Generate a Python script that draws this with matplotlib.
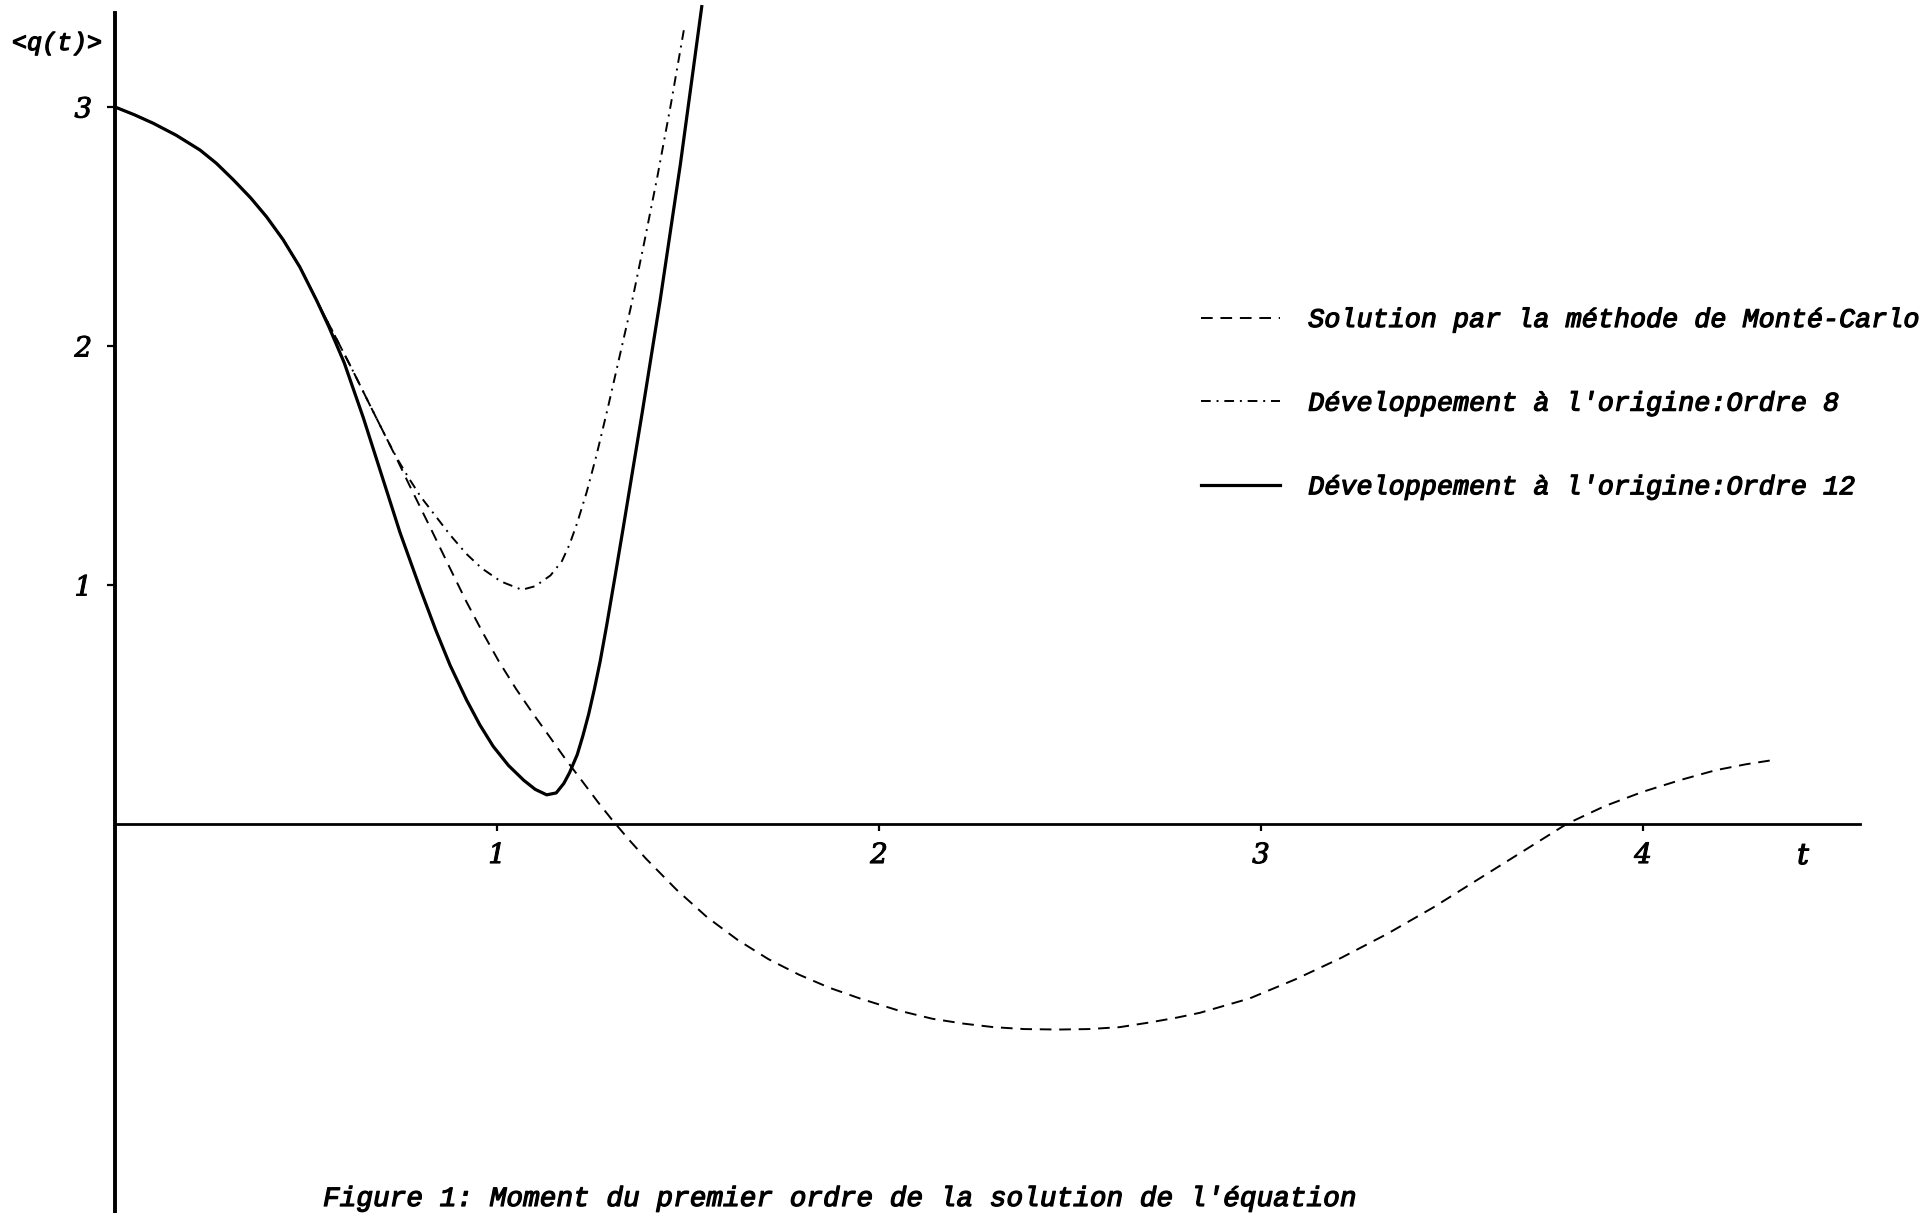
import matplotlib
matplotlib.use("Agg")
import matplotlib.pyplot as plt
import matplotlib.patheffects as pe

# ---- data ----
# part shared by all three curves
t_common = [0.0, 0.05, 0.10, 0.16, 0.2225, 0.265, 0.31, 0.355, 0.397, 0.44, 0.484, 0.528]
q_common = [3.0, 2.968, 2.932, 2.882, 2.82, 2.765, 2.695, 2.62, 2.54, 2.445, 2.33, 2.19]

# Monte-Carlo solution (continues after the shared part)
t_mc = [0.57, 0.62, 0.665, 0.712, 0.74, 0.77, 0.83, 0.877, 0.92, 0.963, 1.005, 1.05,
        1.095, 1.14, 1.18, 1.225, 1.265, 1.30, 1.345, 1.39, 1.47, 1.55, 1.63, 1.71,
        1.79, 1.87, 1.95, 2.05, 2.14, 2.22, 2.30, 2.38, 2.47, 2.55, 2.63, 2.71,
        2.78, 2.84, 2.97, 3.09, 3.21, 3.33, 3.45, 3.56, 3.68, 3.80, 3.90, 4.00,
        4.10, 4.19, 4.27, 4.35]
q_mc = [2.06, 1.905, 1.76, 1.61, 1.52, 1.42, 1.225, 1.07, 0.93, 0.80, 0.68, 0.565,
        0.46, 0.36, 0.27, 0.175, 0.09, 0.02, -0.065, -0.145, -0.275, -0.39, -0.485, -0.565,
        -0.63, -0.685, -0.73, -0.78, -0.815, -0.835, -0.85, -0.858, -0.86, -0.858, -0.85, -0.83,
        -0.81, -0.79, -0.73, -0.65, -0.56, -0.46, -0.35, -0.24, -0.12, 0.0, 0.075, 0.135,
        0.185, 0.225, 0.25, 0.27]

# expansion at the origin, order 8
t_o8 = [0.57, 0.62, 0.665, 0.712, 0.74, 0.77, 0.80, 0.877, 0.92, 0.96, 1.01, 1.065,
        1.10, 1.14, 1.17, 1.19, 1.21, 1.235, 1.26, 1.29, 1.32, 1.35, 1.385, 1.42,
        1.455, 1.49]
q_o8 = [2.06, 1.905, 1.76, 1.61, 1.525, 1.445, 1.37, 1.21, 1.13, 1.07, 1.015, 0.98,
        0.995, 1.04, 1.10, 1.17, 1.26, 1.39, 1.54, 1.74, 1.95, 2.16, 2.43, 2.71,
        3.01, 3.33]

# expansion at the origin, order 12
t_o12 = [0.56, 0.60, 0.65, 0.70, 0.746, 0.80, 0.84, 0.877, 0.92, 0.955, 0.99, 1.03,
         1.07, 1.10, 1.13, 1.155, 1.175, 1.19, 1.21, 1.225, 1.24, 1.255, 1.27, 1.287,
         1.31, 1.331, 1.38, 1.427, 1.48, 1.536]
q_o12 = [2.08, 1.93, 1.70, 1.45, 1.22, 0.98, 0.81, 0.665, 0.52, 0.415, 0.325, 0.245,
         0.183, 0.145, 0.122, 0.13, 0.17, 0.215, 0.29, 0.37, 0.46, 0.565, 0.68, 0.83,
         1.045, 1.245, 1.72, 2.19, 2.76, 3.42]

x_ticks = [1, 2, 3, 4]
x_ticklabels = ["1", "2", "3", "4"]
y_ticks = [1, 2, 3]
y_ticklabels = ["1", "2", "3"]

labels = ["Solution par la méthode de Monté-Carlo",
          "Développement à l'origine:Ordre 8",
          "Développement à l'origine:Ordre 12"]
y_label = "<q(t)>"
x_label = "t"
caption = "Figure 1: Moment du premier ordre de la solution de l'équation"

# ---- figure ----
W, H = 1928, 1213
fig = plt.figure(figsize=(W / 100, H / 100), dpi=100)
ax = fig.add_axes([0, 0, 1, 1])
ax.set_facecolor("white")

x0, xs = 115, 382.0   # pixel of t=0, pixels per unit
y0, ys = 824, 239.0   # pixel of q=0, pixels per unit
ax.set_xlim(-x0 / xs, (W - x0) / xs)
ax.set_ylim((y0 - H) / ys, y0 / ys)

thick = [pe.withStroke(linewidth=0.9, foreground="black")]
mono = {"family": "Liberation Mono", "style": "italic"}
serif = {"family": "DejaVu Serif", "style": "italic"}

mc_t = t_common + t_mc
mc_q = q_common + q_mc
o8_t = t_common + t_o8
o8_q = q_common + q_o8
o12_t = t_common + t_o12
o12_q = q_common + q_o12

l1, = ax.plot(mc_t, mc_q, color="black", lw=1.4, dashes=(6, 4),
              dash_capstyle="butt", label=labels[0])
l2, = ax.plot(o8_t, o8_q, color="black", lw=1.4, dashes=(5, 3, 1, 3),
              label=labels[1])
l3, = ax.plot(o12_t, o12_q, color="black", lw=2.3, label=labels[2])

# axes through origin
for side in ("top", "right"):
    ax.spines[side].set_visible(False)
ax.spines["left"].set_position(("data", 0))
ax.spines["bottom"].set_position(("data", 0))
ax.spines["left"].set_bounds((y0 - H) / ys, (y0 - 13) / ys)
ax.spines["bottom"].set_bounds(0, (1860 - x0) / xs)
ax.spines["left"].set_linewidth(2.8)
ax.spines["bottom"].set_linewidth(2.0)

ax.set_xticks(x_ticks)
ax.set_xticklabels(x_ticklabels, fontdict=dict(serif, size=20))
ax.set_yticks(y_ticks)
ax.set_yticklabels(y_ticklabels, fontdict=dict(serif, size=20))
ax.tick_params(axis="x", direction="out", length=5, width=1.6, pad=8)
ax.tick_params(axis="y", direction="out", length=5.5, width=1.6, pad=11)
for lab in ax.get_xticklabels() + ax.get_yticklabels():
    lab.set_path_effects([pe.withStroke(linewidth=0.7, foreground="black")])

ax.text((57 - x0) / xs, (y0 - 43) / ys, y_label, fontdict=dict(mono, size=18),
        ha="center", va="center", path_effects=thick)
ax.text((1803 - x0) / xs, (y0 - 856) / ys, x_label, fontdict=dict(serif, size=21),
        ha="center", va="center", path_effects=thick)

leg = ax.legend(handles=[l1, l2, l3], loc="upper left",
                bbox_to_anchor=(1201 / W, 1 - 307 / H),
                frameon=False, borderpad=0, borderaxespad=0,
                handlelength=2.95, handletextpad=1.05, labelspacing=2.15,
                prop=dict(family="Liberation Mono", style="italic", size=19.3))
for txt in leg.get_texts():
    txt.set_path_effects(thick)

fig.text(323 / W, 1 - 1199 / H, caption, fontdict=dict(mono, size=20),
         ha="left", va="center", path_effects=thick)

fig.savefig("out.png", dpi=100, facecolor="white")
